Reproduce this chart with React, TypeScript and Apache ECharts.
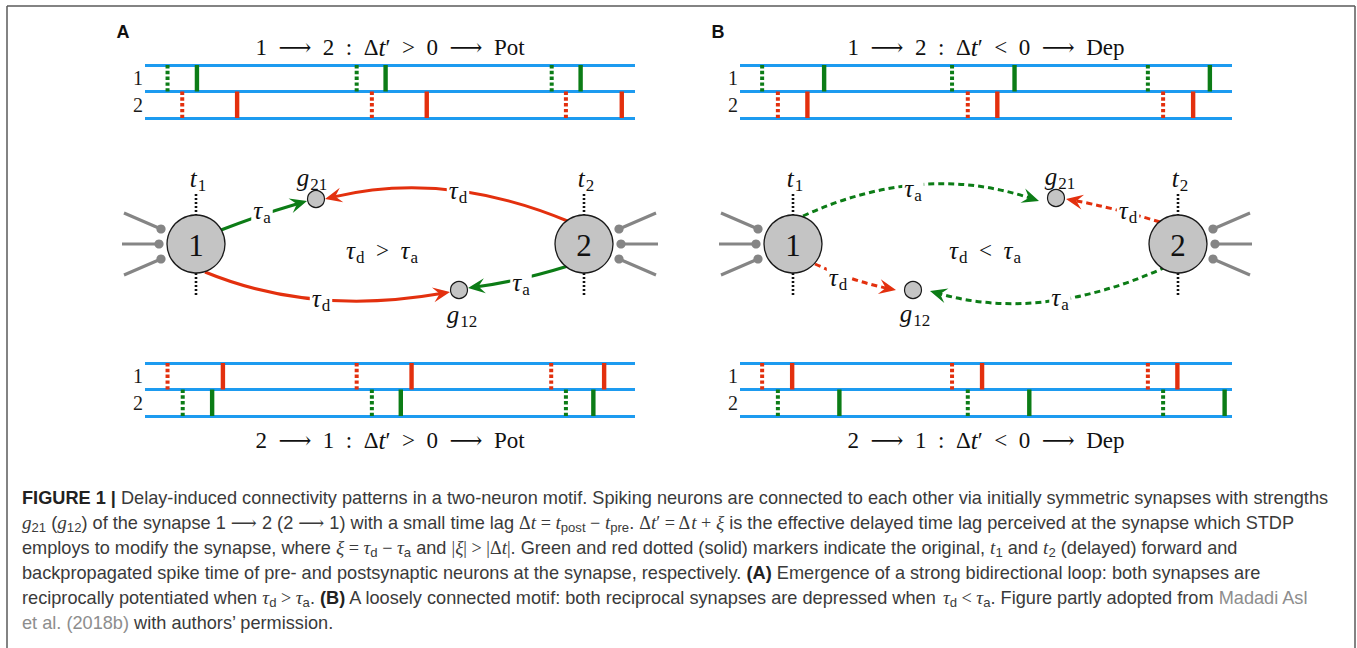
import React, { useEffect, useRef } from 'react';
import * as echarts from 'echarts';

// ---------- data: spike times (percent of the train window) ----------
const ROW_LABELS = ['2', '1'];
// Panel A, top (1 -> 2): neuron 1 green, neuron 2 red
const aTop1Dotted = [4.6, 43.2, 83.0];
const aTop1Solid = [10.6, 49.1, 88.9];
const aTop2Dotted = [7.6, 46.3, 85.9];
const aTop2Solid = [18.8, 57.5, 97.3];
// Panel A, bottom (2 -> 1): neuron 1 red, neuron 2 green
const aBot1Dotted = [4.6, 43.2, 82.9];
const aBot1Solid = [15.9, 54.4, 93.7];
const aBot2Dotted = [7.7, 46.3, 85.9];
const aBot2Solid = [13.7, 52.2, 91.5];
// Panel B, top
const bTop1Dotted = [4.5, 43.1, 82.9];
const bTop1Solid = [17.1, 55.8, 95.5];
const bTop2Dotted = [7.7, 46.3, 86.0];
const bTop2Solid = [13.7, 52.3, 92.1];
// Panel B, bottom
const bBot1Dotted = [4.5, 43.1, 82.9];
const bBot1Solid = [10.6, 49.2, 88.9];
const bBot2Dotted = [7.7, 46.3, 86.0];
const bBot2Solid = [20.2, 58.8, 98.5];

const E = '\u2002';
const trainTitles = [
  `{n|1${E}⟶${E}2${E}:${E}Δ}{i|t}{n|′${E}>${E}0${E}⟶${E}Pot}`,
  `{n|2${E}⟶${E}1${E}:${E}Δ}{i|t}{n|′${E}>${E}0${E}⟶${E}Pot}`,
  `{n|1${E}⟶${E}2${E}:${E}Δ}{i|t}{n|′${E}<${E}0${E}⟶${E}Dep}`,
  `{n|2${E}⟶${E}1${E}:${E}Δ}{i|t}{n|′${E}<${E}0${E}⟶${E}Dep}`,
];

const captionLines = [
  '{b|FIGURE 1 |}{r| Delay-induced connectivity patterns in a two-neuron motif. Spiking neurons are connected to each other via initially symmetric synapses with strengths}',
  '{m|g}{s|21}{r| (}{m|g}{s|12}{r|) of the synapse 1 }{mu|⟶}{r| 2 (2 }{mu|⟶}{r| 1) with a small time lag }{mu|Δ}{m|t}{mu| = }{m|t}{s|post}{mu| − }{m|t}{s|pre}{r|. }{mu|Δ}{m|t}{mu|′ = Δ}{m|t}{mu| + }{m|ξ}{r| is the effective delayed time lag perceived at the synapse which STDP}',
  '{r|employs to modify the synapse, where }{m|ξ}{mu| = }{m|τ}{s|d}{mu| − }{m|τ}{s|a}{r| and }{mu||}{m|ξ}{mu|| > |Δ}{m|t}{mu||}{r|. Green and red dotted (solid) markers indicate the original, }{m|t}{s|1}{r| and }{m|t}{s|2}{r| (delayed) forward and}',
  '{r|backpropagated spike time of pre- and postsynaptic neurons at the synapse, respectively. }{b|(A)}{r| Emergence of a strong bidirectional loop: both synapses are}',
  '{r|reciprocally potentiated when }{m|τ}{s|d}{mu| > }{m|τ}{s|a}{r|. }{b|(B)}{r| A loosely connected motif: both reciprocal synapses are depressed when }{m|τ}{s|d}{mu| < }{m|τ}{s|a}{r|. Figure partly adopted from }{l|Madadi Asl}',
  '{l|et al. (2018b)}{r| with authors’ permission.}',
];

// ---------- styling ----------
const GREEN = '#0c7c16';
const RED = '#e3300e';
const BLUE = '#1d9bf0';
const SERIF = "'Liberation Serif', 'DejaVu Serif', serif";
const CAPFONT = "'Liberation Sans Narrow', 'Liberation Sans', Arial, sans-serif";
const INK = '#111';

const mathRich = {
  i: { fontFamily: SERIF, fontStyle: 'italic', fontSize: 25, fill: INK },
  n: { fontFamily: SERIF, fontSize: 23, fill: INK },
  s: { fontFamily: SERIF, fontSize: 17, fill: INK, padding: [14, 0, 0, 1] },
};

function mtext(x: number, y: number, text: string, bg = false, z = 6) {
  return {
    type: 'text', x, y, z,
    style: {
      text, rich: mathRich, align: 'center', verticalAlign: 'middle',
      backgroundColor: bg ? '#fff' : undefined, padding: bg ? [0, 2, 0, 2] : 0,
    },
  };
}

function head(tx: number, ty: number, cx: number, cy: number, color: string) {
  const dx = tx - cx, dy = ty - cy;
  const L = Math.hypot(dx, dy);
  const ux = dx / L, uy = dy / L, nx = -uy, ny = ux;
  const len = 17, w = 7.5;
  const bx = tx - ux * len, by = ty - uy * len;
  const mx = tx - ux * len * 0.62, my = ty - uy * len * 0.62;
  return {
    type: 'polygon', z: 5,
    shape: { points: [[tx, ty], [bx + nx * w, by + ny * w], [mx, my], [bx - nx * w, by - ny * w]] },
    style: { fill: color },
  };
}

// curve from start S with control C, arrow tip T
function arrowCurve(sx: number, sy: number, cx: number, cy: number, tx: number, ty: number, color: string, dashed: boolean) {
  const dx = tx - cx, dy = ty - cy;
  const L = Math.hypot(dx, dy);
  const ex = tx - (dx / L) * 9, ey = ty - (dy / L) * 9;
  return [
    {
      type: 'bezierCurve', z: 2,
      shape: { x1: sx, y1: sy, cpx1: cx, cpy1: cy, x2: ex, y2: ey },
      style: { stroke: color, lineWidth: 3, fill: null, lineDash: dashed ? [6, 4] : null },
    },
    head(tx, ty, cx, cy, color),
  ];
}

function neuron(cx: number, cy: number, label: string, tlabel: string) {
  const els: any[] = [];
  els.push({ type: 'line', z: 3, shape: { x1: cx, y1: cy - 50, x2: cx, y2: cy - 29 }, style: { stroke: INK, lineWidth: 2.6, lineDash: [2, 2] } });
  els.push({ type: 'line', z: 3, shape: { x1: cx, y1: cy + 29, x2: cx, y2: cy + 51 }, style: { stroke: INK, lineWidth: 2.6, lineDash: [2, 2] } });
  els.push({
    type: 'circle', z: 7, shape: { cx, cy, r: 29 },
    style: { fill: '#c4c4c4', stroke: '#1a1a1a', lineWidth: 1.3 },
  });
  els.push({ type: 'text', z: 8, x: cx, y: cy + 1, style: { text: label, fontFamily: SERIF, fontSize: 31, fill: INK, align: 'center', verticalAlign: 'middle' } });
  els.push(mtext(cx + 2, cy - 66, `{i|t}{s|${tlabel}}`));
  return els;
}

function dendrites(cx: number, cy: number, side: number) {
  const els: any[] = [];
  const pts = [[-35, -15, -72, -31], [-37, 0, -74, 0], [-35, 15, -72, 31]];
  for (const [dx, dy, ox, oy] of pts) {
    els.push({ type: 'line', z: 3, shape: { x1: cx + side * dx, y1: cy + dy, x2: cx + side * ox, y2: cy + oy }, style: { stroke: '#858585', lineWidth: 3 } });
    els.push({ type: 'circle', z: 4, shape: { cx: cx + side * dx, cy: cy + dy, r: 4.6 }, style: { fill: '#858585' } });
  }
  return els;
}

function synapse(cx: number, cy: number) {
  return { type: 'circle', z: 7, shape: { cx, cy, r: 8.5 }, style: { fill: '#c4c4c4', stroke: '#1a1a1a', lineWidth: 1.2 } };
}

function measure(str: string, font: string) {
  const c = document.createElement('canvas').getContext('2d')!;
  c.font = font;
  return c.measureText(str).width;
}

function buildOption() {
  const grids = [
    { left: 145, top: 65, width: 490, height: 53 },
    { left: 145, top: 363, width: 490, height: 53 },
    { left: 740, top: 65, width: 492, height: 53 },
    { left: 740, top: 363, width: 492, height: 53 },
  ];
  const panels = [
    { r1d: aTop1Dotted, r1s: aTop1Solid, c1: GREEN, r2d: aTop2Dotted, r2s: aTop2Solid, c2: RED },
    { r1d: aBot1Dotted, r1s: aBot1Solid, c1: RED, r2d: aBot2Dotted, r2s: aBot2Solid, c2: GREEN },
    { r1d: bTop1Dotted, r1s: bTop1Solid, c1: GREEN, r2d: bTop2Dotted, r2s: bTop2Solid, c2: RED },
    { r1d: bBot1Dotted, r1s: bBot1Solid, c1: RED, r2d: bBot2Dotted, r2s: bBot2Solid, c2: GREEN },
  ];

  const spikeSeries = (gi: number, times: number[], row: number, color: string, dotted: boolean) => ({
    type: 'custom',
    xAxisIndex: gi, yAxisIndex: gi,
    silent: true,
    data: times.map((t) => [t, row]),
    renderItem: (params: any, api: any) => {
      const c = api.coord([api.value(0), api.value(1)]);
      const h = api.size([0, 1])[1];
      return {
        type: 'line',
        shape: { x1: c[0], y1: c[1] - h / 2, x2: c[0], y2: c[1] + h / 2 },
        style: { stroke: color, lineWidth: dotted ? 4 : 4.4, lineDash: dotted ? [3.4, 2.4] : null },
      };
    },
  });

  const series: any[] = [];
  panels.forEach((p, gi) => {
    series.push(spikeSeries(gi, p.r1d, 1, p.c1, true));
    series.push(spikeSeries(gi, p.r1s, 1, p.c1, false));
    series.push(spikeSeries(gi, p.r2d, 0, p.c2, true));
    series.push(spikeSeries(gi, p.r2s, 0, p.c2, false));
  });

  const xAxis = grids.map((_, i) => ({ type: 'value', gridIndex: i, min: 0, max: 100, show: false }));
  const yAxis = grids.map((_, i) => ({
    type: 'category', gridIndex: i, data: ROW_LABELS,
    axisLine: { show: false }, axisTick: { show: false },
    axisLabel: { fontFamily: SERIF, fontSize: 20, color: '#1a1a1a', margin: 2 },
    splitLine: { show: true, lineStyle: { color: BLUE, width: 3 } },
  }));

  const g: any[] = [];
  const frame = { stroke: '#5a5a5a', lineWidth: 1.5 };
  g.push({ type: 'line', shape: { x1: 7, y1: 6, x2: 1355, y2: 6 }, style: frame });
  g.push({ type: 'line', shape: { x1: 7, y1: 6, x2: 7, y2: 648 }, style: frame });
  g.push({ type: 'line', shape: { x1: 1355, y1: 6, x2: 1355, y2: 648 }, style: frame });
  g.push({ type: 'text', x: 123, y: 32, style: { text: 'A', fontFamily: "'Liberation Sans', Arial", fontWeight: 'bold', fontSize: 18, fill: '#111', align: 'center', verticalAlign: 'middle' } });
  g.push({ type: 'text', x: 718, y: 32, style: { text: 'B', fontFamily: "'Liberation Sans', Arial", fontWeight: 'bold', fontSize: 18, fill: '#111', align: 'center', verticalAlign: 'middle' } });
  const titlePos = [[390, 47], [390, 440], [986, 47], [986, 440]];
  titlePos.forEach(([x, y], i) => g.push(mtext(x, y, trainTitles[i])));

  // ----- Panel A diagram -----
  const A1 = [196, 244], A2 = [584, 244];
  g.push(...dendrites(A1[0], A1[1], 1), ...dendrites(A2[0], A2[1], -1));
  g.push(...neuron(A1[0], A1[1], '1', '1'), ...neuron(A2[0], A2[1], '2', '2'));
  g.push(synapse(316, 199), synapse(459, 290));
  g.push(mtext(312, 177, '{i|g}{s|21}'), mtext(462, 314, '{i|g}{s|12}'));
  g.push(...arrowCurve(221, 230, 262, 214, 307, 201, GREEN, false));
  g.push(...arrowCurve(570, 222, 446, 170, 325, 199, RED, false));
  g.push(...arrowCurve(205, 272, 312, 316, 450, 292, RED, false));
  g.push(...arrowCurve(568, 266, 520, 281, 468, 288, GREEN, false));
  g.push(mtext(262, 210, '{i|τ}{s|a}', true));
  g.push(mtext(458, 190, '{i|τ}{s|d}', true));
  g.push(mtext(321, 298, '{i|τ}{s|d}', true));
  g.push(mtext(521, 282, '{i|τ}{s|a}', true));
  g.push(mtext(382, 250, `{i|τ}{s|d}{n|${E}>${E}}{i|τ}{s|a}`));

  // ----- Panel B diagram -----
  const B1 = [793, 244], B2 = [1178, 244];
  g.push(...dendrites(B1[0], B1[1], 1), ...dendrites(B2[0], B2[1], -1));
  g.push(...neuron(B1[0], B1[1], '1', '1'), ...neuron(B2[0], B2[1], '2', '2'));
  g.push(synapse(1056, 198), synapse(913, 290));
  g.push(mtext(1060, 176, '{i|g}{s|21}'), mtext(915, 313, '{i|g}{s|12}'));
  g.push(...arrowCurve(803, 216, 921, 162, 1039, 201, GREEN, true));
  g.push(...arrowCurve(1160, 222, 1110, 207, 1066, 199, RED, true));
  g.push(...arrowCurve(815, 264, 852, 281, 896, 290, RED, true));
  g.push(...arrowCurve(1166, 267, 1042, 323, 930, 291, GREEN, true));
  g.push(mtext(913, 188, '{i|τ}{s|a}', true));
  g.push(mtext(1128, 210, '{i|τ}{s|d}', true));
  g.push(mtext(838, 277, '{i|τ}{s|d}', true));
  g.push(mtext(1060, 297, '{i|τ}{s|a}', true));
  g.push(mtext(985, 250, `{i|τ}{s|d}{n|${E}<${E}}{i|τ}{s|a}`));

  // ----- caption -----
  const CS = 18;
  const capRich = {
    r: { fontFamily: CAPFONT, fontSize: CS, fill: '#3a3a3a' },
    b: { fontFamily: CAPFONT, fontSize: CS, fontWeight: 'bold', fill: '#222' },
    l: { fontFamily: CAPFONT, fontSize: CS, fill: '#8d8d8d' },
    m: { fontFamily: SERIF, fontStyle: 'italic', fontSize: CS + 1, fill: '#3a3a3a' },
    mu: { fontFamily: SERIF, fontSize: CS, fill: '#3a3a3a' },
    s: { fontFamily: CAPFONT, fontSize: CS - 5, fill: '#3a3a3a', padding: [10, 0, 0, 0] },
  };
  const w1 = measure('FIGURE 1 |', `bold ${CS}px ${CAPFONT}`) +
    measure(' Delay-induced connectivity patterns in a two-neuron motif. Spiking neurons are connected to each other via initially symmetric synapses with strengths', `${CS}px ${CAPFONT}`);
  const sx = 1306 / w1;
  g.push({
    type: 'group', x: 22, y: 0, scaleX: sx,
    children: captionLines.map((t, i) => ({
      type: 'text', x: 0, y: 498 + i * 25,
      style: { text: t, rich: capRich, align: 'left', verticalAlign: 'middle' },
    })),
  });

  return {
    animation: false,
    backgroundColor: '#fff',
    grid: grids,
    xAxis, yAxis, series,
    graphic: { elements: g },
  };
}

export default function App() {
  const ref = useRef<HTMLDivElement>(null);
  useEffect(() => {
    const chart = echarts.init(ref.current!, null, { renderer: 'svg' });
    chart.setOption(buildOption() as any);
    return () => chart.dispose();
  }, []);
  return <div ref={ref} style={{ position: 'absolute', left: 0, top: 0, width: 1357, height: 648, background: '#fff' }} />;
}
